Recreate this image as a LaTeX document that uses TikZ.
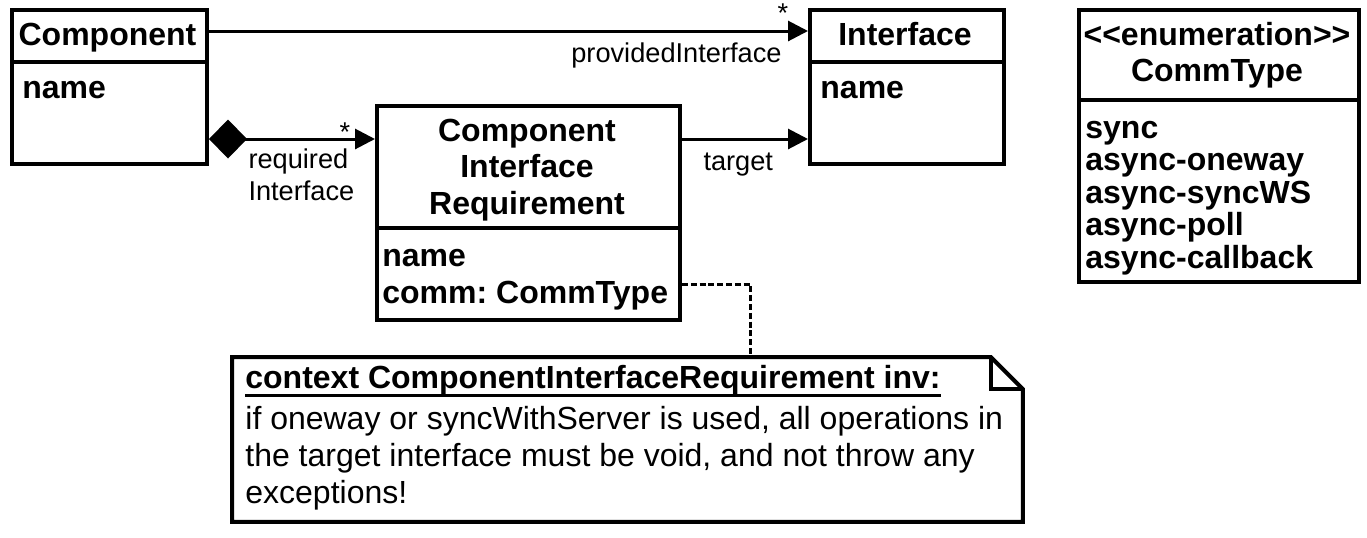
\documentclass[tikz,border=0pt]{standalone}
\usepackage{fontspec}
\setmainfont{Liberation Sans}
\usetikzlibrary{positioning,arrows.meta}

\tikzset{
  classbox/.style={draw, rectangle, line width=2pt, inner sep=0pt, anchor=north west},
  boldtxt/.style={font=\bfseries\fontsize{16}{18}\selectfont, inner sep=0pt},
  plaintxt/.style={font=\fontsize{16}{18}\selectfont, inner sep=0pt},
  lbl/.style={font=\fontsize{13.6}{16}\selectfont, inner sep=0pt},
  assoc/.style={line width=1.5pt, -{Triangle[length=10pt,width=10pt]}},
  compos/.style={line width=1.5pt, {Diamond[length=19pt,width=19.5pt]}-{Triangle[length=10pt,width=10pt]}},
  notelink/.style={line width=1.5pt, dash pattern=on 3pt off 1.4pt},
}
\frenchspacing

\begin{document}
\begin{tikzpicture}[x=0.5pt, y=-0.5pt]
    \useasboundingbox (0,0) rectangle (1367,537);

    % classes
    \node[classbox, minimum width=97.5pt, minimum height=77pt] (comp) at (10,8) {};
    \draw[line width=2pt] ([yshift=-27pt]comp.north west) -- ([yshift=-27pt]comp.north east);
    \node[boldtxt, anchor=base] at (107.5,45) {Component};
    \node[boldtxt, anchor=base west] at (22,98) {name};

    \node[classbox, minimum width=97pt, minimum height=77pt] (iface) at (808,8) {};
    \draw[line width=2pt] ([yshift=-27pt]iface.north west) -- ([yshift=-27pt]iface.north east);
    \node[boldtxt, anchor=base] at (905,45) {Interface};
    \node[boldtxt, anchor=base west] at (820,98) {name};

    \node[classbox, minimum width=151.5pt, minimum height=107pt] (cir) at (375,104) {};
    \draw[line width=2pt] ([yshift=-62pt]cir.north west) -- ([yshift=-62pt]cir.north east);
    \node[boldtxt, anchor=base] at (527,141) {Component};
    \node[boldtxt, anchor=base] at (527,177) {Interface};
    \node[boldtxt, anchor=base] at (527,214) {Requirement};
    \node[boldtxt, anchor=base west] at (382,266) {name};
    \node[boldtxt, anchor=base west] at (382,303) {comm: CommType};

    \node[classbox, minimum width=140pt, minimum height=136pt] (ctype) at (1077,8) {};
    \draw[line width=2pt] ([yshift=-46pt]ctype.north west) -- ([yshift=-46pt]ctype.north east);
    \node[boldtxt, anchor=base] at (1217,45) {{<}{<}enumeration{>}{>}};
    \node[boldtxt, anchor=base] at (1217,81) {CommType};
    \foreach \lit [count=\i] in {sync, async-oneway, async-syncWS, async-poll, async-callback}
        \node[boldtxt, anchor=base west] at (1085,{105.5+32.5*\i}) {\lit};

    % OCL note
    \node[rectangle, inner sep=0pt, minimum width=395pt, minimum height=82pt, anchor=north west] (note) at (232,357) {};
    \draw[line width=2pt] (note.north west) -- ([xshift=-16pt]note.north east)
        -- ([yshift=-16pt]note.north east) -- (note.south east) -- (note.south west) -- cycle;
    \draw[line width=2pt] ([xshift=-16pt]note.north east) -- ([xshift=-16pt, yshift=-16pt]note.north east)
        -- ([yshift=-16pt]note.north east);
    \node[boldtxt, anchor=base west] (oclhead) at (245,388) {context ComponentInterfaceRequirement inv:};
    \draw[line width=1.5pt] (oclhead.south west) -- (oclhead.south east);
    \node[plaintxt, anchor=base west] at (245,429) {if oneway or syncWithServer is used, all operations in};
    \node[plaintxt, anchor=base west] at (245,466) {the target interface must be void, and not throw any};
    \node[plaintxt, anchor=base west] at (245,503) {exceptions!};

    % associations
    \draw[assoc] ([yshift=-11.5pt]comp.north east) -- ([yshift=-11.5pt]iface.north west)
        node[lbl, pos=1, anchor=base east, xshift=-12.5pt, yshift=-15.5pt] {providedInterface}
        node[lbl, pos=1, anchor=base, xshift=-12.5pt, yshift=4.5pt] {*};
    \draw[compos] ([yshift=-65.5pt]comp.north east) -- ([yshift=-17.5pt]cir.north west)
        node[lbl, pos=0, anchor=base west, xshift=19pt, yshift=-14.5pt] {required}
        node[lbl, pos=0, anchor=base west, xshift=19pt, yshift=-30.5pt] {Interface}
        node[lbl, pos=1, anchor=base, xshift=-15pt, yshift=-1pt] {*};
    \draw[assoc] ([yshift=-17.5pt]cir.north east) -- ([yshift=-65.5pt]iface.north west)
        node[lbl, pos=0, anchor=base west, xshift=10pt, yshift=-15.5pt] {target};
    \draw[notelink] ([yshift=19pt]cir.south east) -| ([xshift=259pt]note.north west);
\end{tikzpicture}
\end{document}
